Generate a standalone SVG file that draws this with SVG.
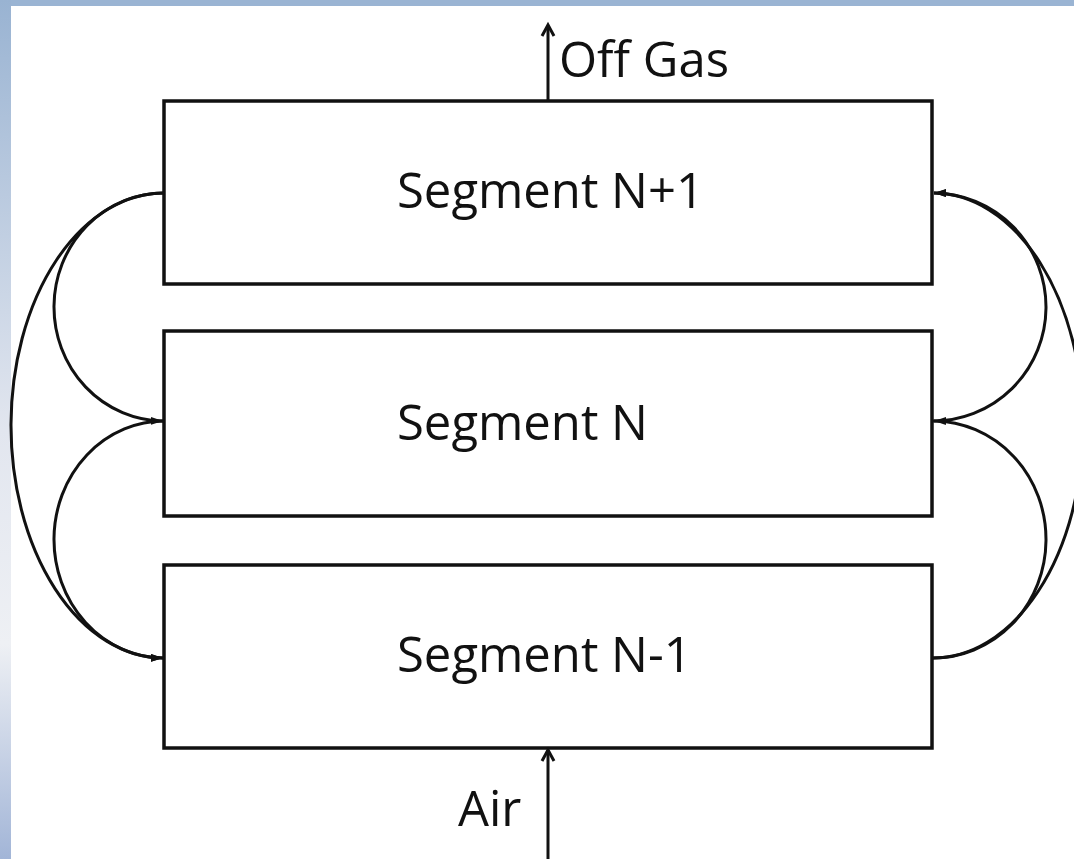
<svg xmlns="http://www.w3.org/2000/svg" width="1074" height="859" viewBox="0 0 1074 859">
  <defs>
    <linearGradient id="leftband" x1="0" y1="0" x2="0" y2="1">
      <stop offset="0" stop-color="#99b3d2"/>
      <stop offset="0.5" stop-color="#e2e6ef"/>
      <stop offset="0.75" stop-color="#eef0f4"/>
      <stop offset="1" stop-color="#a2b5d7"/>
    </linearGradient>
    <marker id="arrow" markerUnits="userSpaceOnUse" markerWidth="13" markerHeight="9" refX="12" refY="4.5" orient="auto">
      <path d="M0,0.5 L12,4.5 L0,8.5 z" fill="#111"/>
    </marker>
    <style>
      .box { fill: #fff; stroke: #111; stroke-width: 3.5; }
      .label { font-family: "Open Sans", "Noto Sans", sans-serif; font-size: 49px; fill: #111; }
      .flow { fill: none; stroke: #111; stroke-width: 3; }
      .feed { fill: none; stroke: #111; stroke-width: 3; }
    </style>
  </defs>
  <rect x="0" y="0" width="1074" height="859" fill="#fff"/>
  <rect x="0" y="0" width="1074" height="6" fill="#9ab4d3"/>
  <rect x="0" y="0" width="11" height="859" fill="url(#leftband)"/>

  <g id="segment-n-plus-1">
    <rect class="box" x="164" y="101" width="768" height="183"/>
    <text class="label" x="397" y="208">Segment N+1</text>
  </g>
  <g id="segment-n">
    <rect class="box" x="164" y="331" width="768" height="185"/>
    <text class="label" x="397" y="440">Segment N</text>
  </g>
  <g id="segment-n-minus-1">
    <rect class="box" x="164" y="565" width="768" height="183"/>
    <text class="label" x="397" y="672">Segment N-1</text>
  </g>

  <g id="connectors">
    <path class="flow" d="M165,193 A153,232.5 0 0 0 163,658" marker-end="url(#arrow)"/>
    <path class="flow" d="M165,193 A110,114 0 0 0 163,421" marker-end="url(#arrow)"/>
    <path class="flow" d="M165,421 A110,118.5 0 0 0 163,658" marker-end="url(#arrow)"/>
    <path class="flow" d="M932,658 A150,232.5 0 0 0 934,193" marker-end="url(#arrow)"/>
    <path class="flow" d="M932,658 A113,118.5 0 0 0 934,421" marker-end="url(#arrow)"/>
    <path class="flow" d="M932,421 A113,114 0 0 0 934,193" marker-end="url(#arrow)"/>
    <g id="off-gas">
      <line class="feed" x1="548" y1="101" x2="548" y2="26"/>
      <polyline class="feed" points="542,36 548,25 554,36"/>
      <text class="label" x="559" y="77">Off Gas</text>
    </g>
    <g id="air">
      <line class="feed" x1="548" y1="859" x2="548" y2="750"/>
      <polyline class="feed" points="542,761 548,750 554,761"/>
      <text class="label" x="458" y="826">Air</text>
    </g>
  </g>
</svg>
